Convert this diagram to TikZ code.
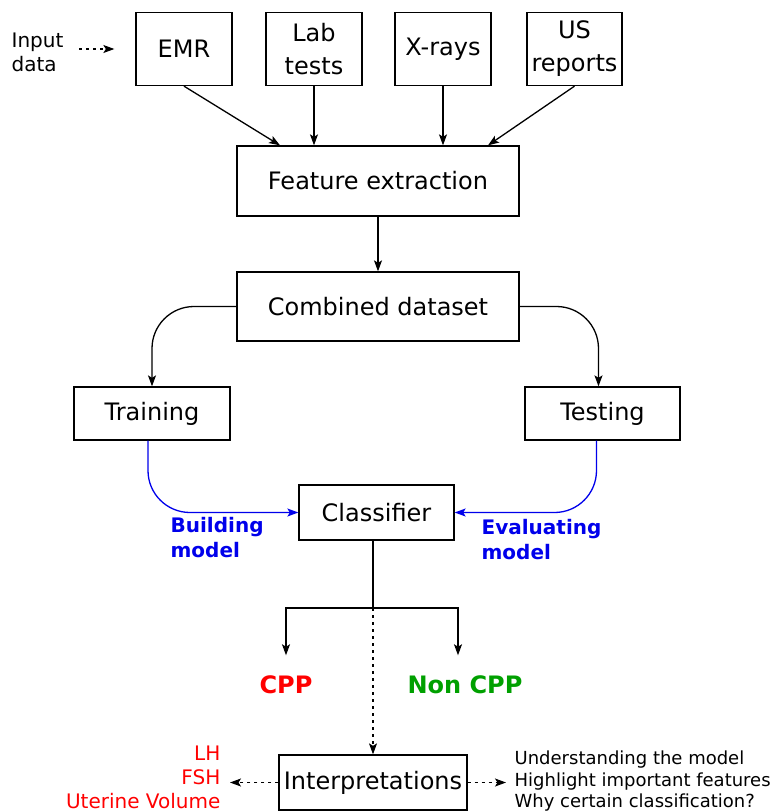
\documentclass[tikz,border=0pt]{standalone}
\usepackage{fontspec}
\setmainfont{DejaVu Sans}
\usetikzlibrary{arrows,arrows.meta}

\definecolor{cppred}{RGB}{255,0,0}
\definecolor{cppgreen}{RGB}{0,160,0}
\definecolor{mblue}{RGB}{0,0,235}

\begin{document}
\begin{tikzpicture}[x=1pt,y=-1pt,>={Stealth[length=11pt,width=8pt,inset=2.5pt]},line width=1.3pt,
  box/.style={draw,rectangle,inner sep=0pt,align=center,font=\fontsize{24}{30}\selectfont},
  note/.style={inner sep=0pt,font=\fontsize{20}{24}\selectfont},
  result/.style={inner sep=2pt,font=\fontsize{24}{29}\selectfont\bfseries},
  dots/.style={dash pattern=on 3pt off 4pt,line width=1.2pt}]
  \useasboundingbox (0,0) rectangle (773,812);

  % input sources
  \node[note,align=left,anchor=west] (input) at (11,52) {Input\\data};
  \node[box,minimum width=96,minimum height=73] (emr)  at (184,49)   {EMR};
  \node[box,minimum width=96,minimum height=73] (lab)  at (314,49)   {Lab\\[3pt]tests};
  \node[box,minimum width=96,minimum height=73] (xray) at (443,49)   {X-rays};
  \node[box,minimum width=95,minimum height=73] (us)   at (574.5,49) {US\\[3pt]reports};

  \node[box,minimum width=282,minimum height=70] (feat) at (378,181)   {Feature extraction};
  \node[box,minimum width=282,minimum height=69] (comb) at (378,306.5) {Combined dataset};
  \node[box,minimum width=156,minimum height=53] (train) at (152,413.5)   {Training};
  \node[box,minimum width=155,minimum height=53] (test)  at (602.5,413.5) {Testing};
  \node[box,minimum width=155,minimum height=55] (clf)   at (376.5,512.5) {Classifier};

  \node[note,mblue,font=\fontsize{20}{25}\selectfont\bfseries,align=left,anchor=west] (build) at (170,537.5) {Building\\model};
  \node[note,mblue,font=\fontsize{20}{25}\selectfont\bfseries,align=left,anchor=west] (eval)  at (481,539.5) {Evaluating\\model};

  \coordinate (split) at (373,608);
  \node[result,cppred]   (cpp)    at (286,685) {CPP};
  \node[result,cppgreen] (noncpp) at (465,685) {Non CPP};

  \node[box,minimum width=188,minimum height=55] (interp) at (373,782.5) {Interpretations};
  \node[note,cppred,align=right,anchor=east,font=\fontsize{20}{24}\selectfont] (feats) at (221,777) {LH\\FSH\\Uterine Volume};
  \node[note,align=left,anchor=west,font=\fontsize{18}{21.5}\selectfont] (why) at (514,781.5)
    {Understanding the model\\Highlight important features\\Why certain classification?};

  % connectors
  \draw[->,dots,shorten <=15pt,shorten >=21pt] (input.east |- emr) -- (emr.west);
  \path[->] (emr.south)  edge (feat.north -| 280,0)
            (lab.south)  edge (lab.south |- feat.north)
            (xray.south) edge (xray.south |- feat.north)
            (us.south)   edge (feat.north -| 488,0)
            (feat)       edge (comb);
  \draw[->,rounded corners=42pt] (comb.west) -| (train.north);
  \draw[->,rounded corners=42pt] (comb.east) -| ([xshift=-4pt]test.north);
  \draw[->,mblue,rounded corners=42pt] ([xshift=-4pt]train.south) |- (clf.west);
  \draw[->,mblue,rounded corners=42pt] ([xshift=-6pt]test.south) |- (clf.east);

  \draw (clf.south -| split) -- (split);
  \draw[->] (split) -| ([yshift=18pt]cpp.north);
  \draw[->] (split) -| ([xshift=-7pt,yshift=18pt]noncpp.north);
  \draw[->,dots] (split) -- (interp.north);
  \draw[->,dots,shorten >=9pt] (interp.west) -- (feats.east |- interp.west);
  \draw[->,dots,shorten >=8pt] (interp.east) -- (why.west |- interp.east);
\end{tikzpicture}
\end{document}
